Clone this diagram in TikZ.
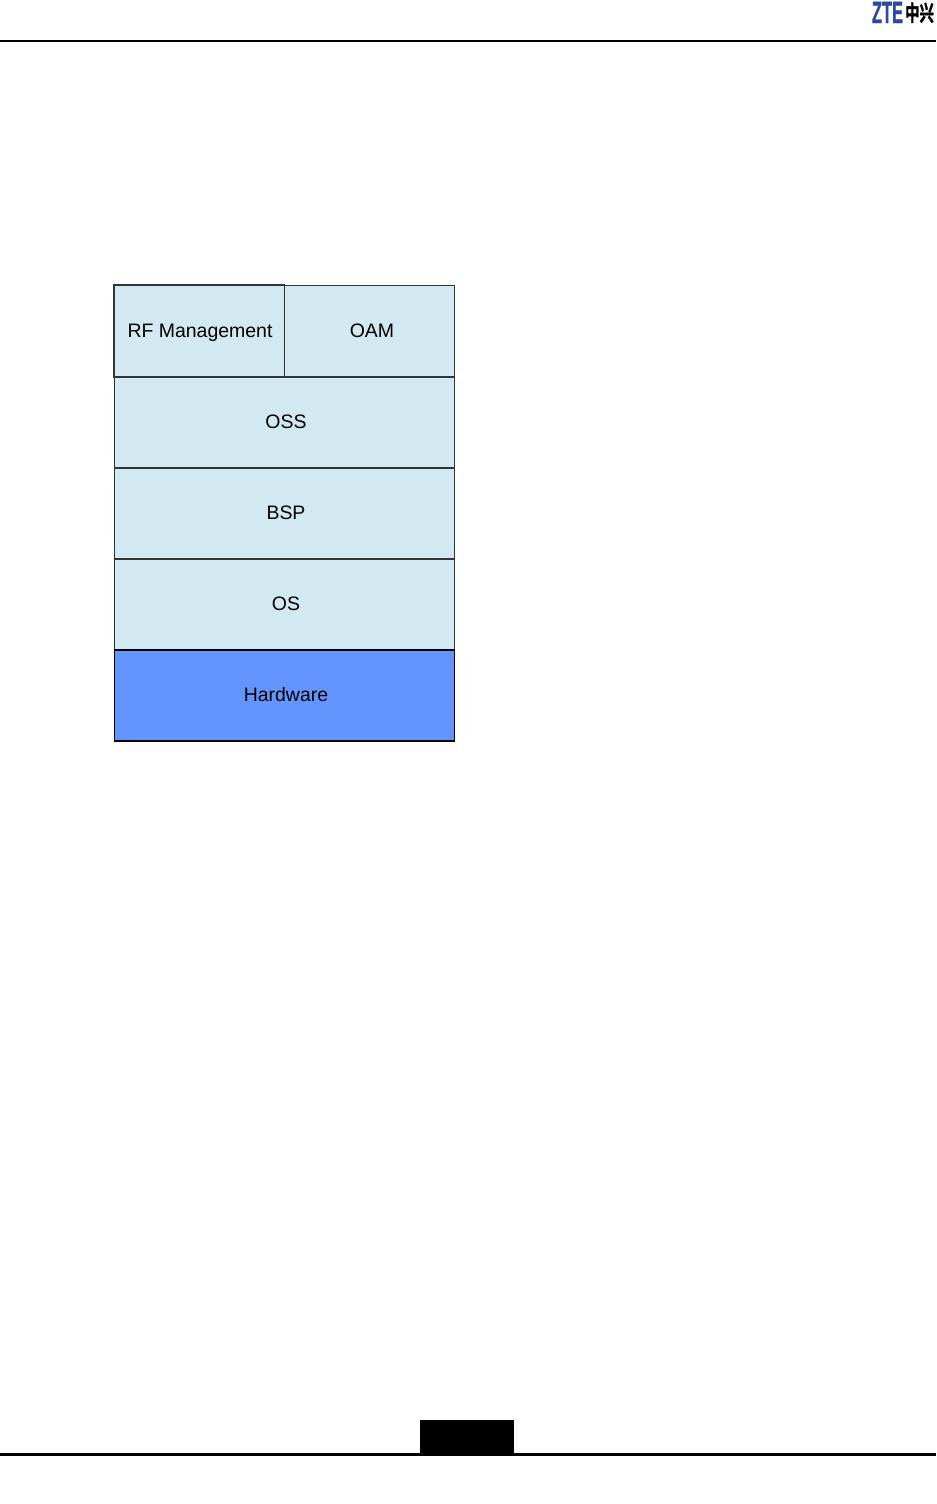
\documentclass[tikz,border=0pt]{standalone}
\usepackage{fontspec}
\setmainfont{Liberation Sans}
\newfontfamily\cjkfont{Noto Sans CJK SC}[BoldFont=* Bold,FakeBold=1.5]
\newfontfamily\ztefont{Liberation Sans}[BoldFont=* Bold,FakeBold=1.2]
\definecolor{layer}{HTML}{D2E9F1}
\definecolor{hw}{HTML}{6495FF}
\definecolor{edge}{HTML}{333333}
\definecolor{zte}{HTML}{2B4A9B}
\tikzset{
  px/.style={x=0.75pt,y=-0.75pt},
  layerbox/.style={draw=edge,line width=0.9pt,fill=layer},
  hwbox/.style={draw=black,line width=0.9pt,fill=hw},
  lab/.style={font=\fontsize{14.6}{16}\selectfont,text=black,inner sep=0pt,anchor=base},
  rule/.style={draw=black},
}
\begin{document}
\begin{tikzpicture}[px]
\useasboundingbox (0,0) rectangle (936,1504);
% header
\draw[rule,line width=1.5pt] (0,41) -- (936,41);
\node[anchor=base,inner sep=0pt,text=zte,font=\ztefont\bfseries\fontsize{20}{20}\selectfont,xscale=0.62,yscale=1.15] (logo) at (887.5,23) {ZTE};
\node[anchor=base,inner sep=0pt,font=\cjkfont\bfseries\fontsize{10.8}{12}\selectfont,yscale=1.5] (logocn) at (919.5,21) {中兴};
% layers
\draw[layerbox] (114,285) rectangle (284.5,377) node[pos=.5,inner sep=0pt] (rf) {};
\draw[layerbox] (284.5,285.5) rectangle (454.5,377) node[pos=.5,inner sep=0pt] (oam) {};
\draw[layerbox] (114.5,377) rectangle (454.5,468) node[pos=.5,inner sep=0pt] (oss) {};
\draw[layerbox] (114.5,468) rectangle (454.5,559) node[pos=.5,inner sep=0pt] (bsp) {};
\draw[layerbox] (114.5,559) rectangle (454.5,650) node[pos=.5,inner sep=0pt] (os) {};
\draw[hwbox] (114.5,650) rectangle (454.5,741) node[pos=.5,inner sep=0pt] (hardware) {};
\node[lab] (t1) at (200,337) {RF Management};
\node[lab] (t2) at (372,337) {OAM};
\node[lab] (t3) at (286,428) {OSS};
\node[lab] (t4) at (286,519) {BSP};
\node[lab] (t5) at (286,610) {OS};
\node[lab] (t6) at (286,701) {Hardware};
% footer
\fill[black] (420,1420) rectangle (514,1454);
\draw[rule,line width=2.2pt] (0,1454.5) -- (936,1454.5);
\end{tikzpicture}
\end{document}
